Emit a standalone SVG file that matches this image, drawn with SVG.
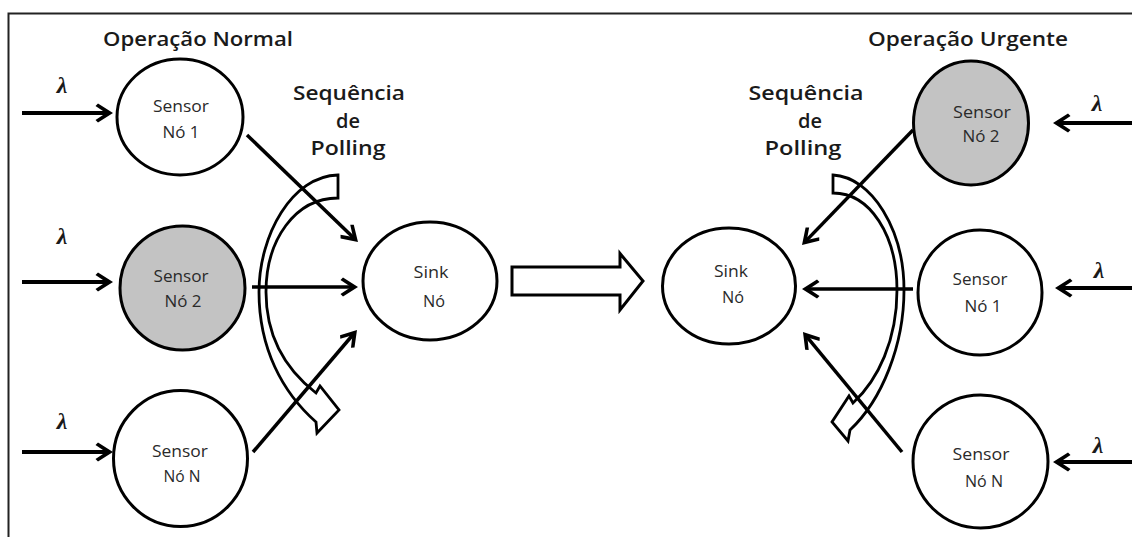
<svg xmlns="http://www.w3.org/2000/svg" width="1132" height="537" viewBox="0 0 1132 537">
<style>
.node{stroke:#000;stroke-width:3;fill:#fff}
.gray{fill:#c3c3c3}
.lbl{font-family:"Open Sans","Liberation Sans",sans-serif;font-size:15.5px;font-weight:500;fill:#2a2a2a;text-anchor:middle}
.hdr{font-family:"Open Sans","Liberation Sans",sans-serif;font-size:20px;font-weight:600;fill:#1a1a1a}
.seq{font-family:"Open Sans","Liberation Sans",sans-serif;font-size:20px;font-weight:600;fill:#1a1a1a;text-anchor:middle}
.lam{font-family:"Liberation Serif",serif;font-size:24px;font-style:italic;font-weight:bold;fill:#1a1a1a;text-anchor:middle}
.in{stroke:#000;stroke-width:4;fill:none;marker-end:url(#ah)}
.con{stroke:#000;stroke-width:3.5;fill:none;marker-end:url(#ah)}
.poll{stroke:#000;stroke-width:2.8;fill:#fff;stroke-linejoin:miter}
</style>
<defs>
<marker id="ah" markerUnits="userSpaceOnUse" viewBox="-17 -11 21 22" refX="-2" refY="0" markerWidth="21" markerHeight="22" orient="auto" overflow="visible">
<path d="M2,0 L-13,-9.5 L-15.5,-7 L-5,0 L-15.5,7 L-13,9.5 Z" fill="#000"/>
</marker>
</defs>
<rect width="1132" height="537" fill="#fff"/>
<path d="M8.5,537 V13.5 H1132" fill="none" stroke="#222" stroke-width="2"/>

<g id="headers">
<text class="hdr" x="103" y="46" textLength="190" lengthAdjust="spacingAndGlyphs">Operação Normal</text>
<text class="hdr" x="868" y="46" textLength="200" lengthAdjust="spacingAndGlyphs">Operação Urgente</text>
</g>

<g id="polling-left">
<path class="poll" d="M338,175 C292,176 259,235 259,292 C259,348 282,392 316,422 L317,433 L339,410 L320,386 L316,393 C289,372 266,340 266,292 C266,240 295,198 338,198 Z"/>
<text class="seq" x="349" y="100" textLength="112" lengthAdjust="spacingAndGlyphs">Sequência</text>
<text class="seq" x="348" y="128">de</text>
<text class="seq" x="348" y="155" textLength="75" lengthAdjust="spacingAndGlyphs">Polling</text>
</g>

<g id="polling-right">
<path class="poll" d="M833,175 C872,177 904,230 904,290 C904,345 882,400 850,430 L848,441 L832,422 L849,396 L853,403 C878,380 897,340 897,290 C897,235 870,193 833,193 Z"/>
<text class="seq" x="806" y="100" textLength="115" lengthAdjust="spacingAndGlyphs">Sequência</text>
<text class="seq" x="810" y="128">de</text>
<text class="seq" x="803" y="155" textLength="77" lengthAdjust="spacingAndGlyphs">Polling</text>
</g>

<g id="left-sensor1">
<ellipse class="node" cx="180" cy="117" rx="63" ry="58"/>
<text class="lbl" x="181" y="112" textLength="56" lengthAdjust="spacingAndGlyphs">Sensor</text>
<text class="lbl" x="181" y="138" textLength="37" lengthAdjust="spacingAndGlyphs">Nó 1</text>
</g>
<g id="left-sensor2">
<ellipse class="node gray" cx="182.5" cy="288" rx="62.5" ry="62"/>
<text class="lbl" x="181" y="282" textLength="55" lengthAdjust="spacingAndGlyphs">Sensor</text>
<text class="lbl" x="183" y="307" textLength="37" lengthAdjust="spacingAndGlyphs">Nó 2</text>
</g>
<g id="left-sensorN">
<ellipse class="node" cx="180.5" cy="458.5" rx="67" ry="68"/>
<text class="lbl" x="180" y="457" textLength="56" lengthAdjust="spacingAndGlyphs">Sensor</text>
<text class="lbl" x="182" y="482" textLength="37" lengthAdjust="spacingAndGlyphs">Nó N</text>
</g>
<g id="left-sink">
<ellipse class="node" cx="430" cy="281" rx="67" ry="59"/>
<text class="lbl" x="431" y="278" textLength="35" lengthAdjust="spacingAndGlyphs">Sink</text>
<text class="lbl" x="434" y="307" textLength="22" lengthAdjust="spacingAndGlyphs">Nó</text>
</g>

<g id="transition">
<path d="M512,267 H620 V253.5 L643,281 L620,310 V295 H512 Z" fill="#fff" stroke="#000" stroke-width="3" stroke-linejoin="miter"/>
</g>

<g id="right-sink">
<ellipse class="node" cx="729" cy="286" rx="66.5" ry="58"/>
<text class="lbl" x="731" y="277" textLength="34" lengthAdjust="spacingAndGlyphs">Sink</text>
<text class="lbl" x="733" y="303" textLength="22" lengthAdjust="spacingAndGlyphs">Nó</text>
</g>
<g id="right-sensor2">
<ellipse class="node gray" cx="971" cy="123" rx="57.5" ry="62"/>
<text class="lbl" x="982" y="118" textLength="58" lengthAdjust="spacingAndGlyphs">Sensor</text>
<text class="lbl" x="981" y="142" textLength="37" lengthAdjust="spacingAndGlyphs">Nó 2</text>
</g>
<g id="right-sensor1">
<ellipse class="node" cx="980" cy="292.5" rx="62" ry="62.5"/>
<text class="lbl" x="980" y="285" textLength="55" lengthAdjust="spacingAndGlyphs">Sensor</text>
<text class="lbl" x="983" y="312" textLength="37" lengthAdjust="spacingAndGlyphs">Nó 1</text>
</g>
<g id="right-sensorN">
<ellipse class="node" cx="980.5" cy="461.5" rx="67.5" ry="66.5"/>
<text class="lbl" x="981" y="460" textLength="57" lengthAdjust="spacingAndGlyphs">Sensor</text>
<text class="lbl" x="984" y="487" textLength="38" lengthAdjust="spacingAndGlyphs">Nó N</text>
</g>

<g id="lambdas">
<text class="lam" x="62" y="93">λ</text>
<text class="lam" x="62" y="244">λ</text>
<text class="lam" x="62" y="429">λ</text>
<text class="lam" x="1097" y="111">λ</text>
<text class="lam" x="1099" y="278">λ</text>
<text class="lam" x="1098" y="453">λ</text>
</g>

<g id="connectors">
<line class="in" x1="22" y1="113" x2="109" y2="113"/>
<line class="in" x1="22" y1="282" x2="109" y2="282"/>
<line class="in" x1="22" y1="452" x2="109" y2="452"/>
<line class="in" x1="1132" y1="123" x2="1057" y2="123"/>
<line class="in" x1="1132" y1="288" x2="1059" y2="288"/>
<line class="in" x1="1132" y1="462" x2="1057" y2="462"/>
<line class="con" x1="247" y1="135" x2="355.1" y2="239.2"/>
<line class="con" x1="252" y1="287" x2="354" y2="287"/>
<line class="con" x1="253" y1="452" x2="354.4" y2="333"/>
<line class="con" x1="913" y1="130" x2="804.8" y2="242.1"/>
<line class="con" x1="913" y1="289" x2="806" y2="289"/>
<line class="con" x1="902" y1="452" x2="805.5" y2="335.1"/>
</g>
</svg>
